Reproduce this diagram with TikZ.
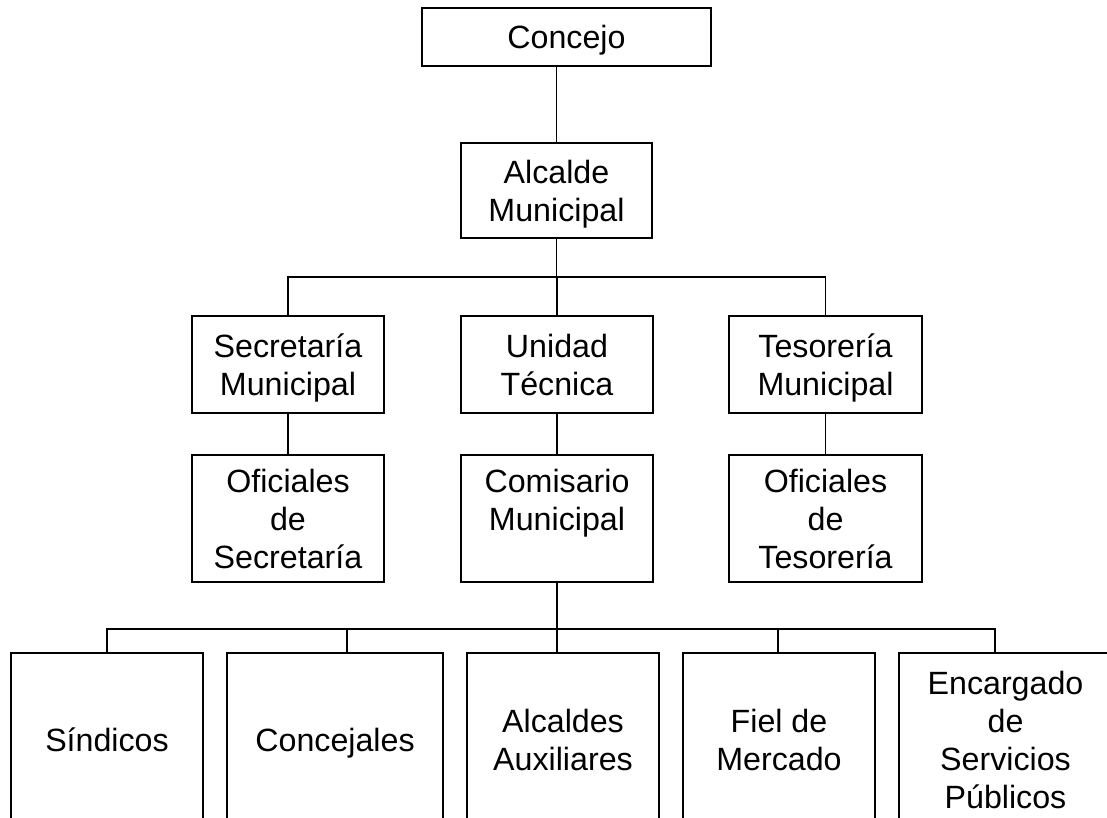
\documentclass[tikz,border=0pt]{standalone}
\usepackage{fontspec}
\setmainfont{Liberation Sans}
\begin{document}
\begin{tikzpicture}[x=1pt,y=-1pt,
  box/.style={draw, line width=1.8pt, inner sep=0pt, align=center,
    font=\fontsize{32.2}{38}\selectfont, text depth=0pt},
  conn/.style={line width=1.8pt}]
\clip (0,0) rectangle (1107,817);
\fill[white] (0,0) rectangle (1107,817);
% level 0-1
\node[box, minimum width=289pt, minimum height=58pt] (con) at (566.5,37) {Concejo};
\node[box, minimum width=191pt, minimum height=95pt] (alc) at (556.5,190.5) {Alcalde\\Municipal};
% level 2
\node[box, minimum width=192pt, minimum height=97pt] (sec) at (288,364.5) {Secretaría\\Municipal};
\node[box, minimum width=192pt, minimum height=97pt] (uni) at (557,364.5) {Unidad\\Técnica};
\node[box, minimum width=193pt, minimum height=97pt] (tes) at (825.5,364.5) {Tesorería\\Municipal};
% level 3
\node[box, minimum width=192pt, minimum height=127pt] (osec) at (288,518.5) {Oficiales\\de\\Secretaría};
\node[box, minimum width=192pt, minimum height=127pt] (com) at (557,518.5) {Comisario\\Municipal\\~};
\node[box, minimum width=193pt, minimum height=127pt] (otes) at (825.5,518.5) {Oficiales\\de\\Tesorería};
% level 4
\node[box, minimum width=192pt, minimum height=174pt] (sind) at (107,740) {Síndicos};
\node[box, minimum width=216pt, minimum height=174pt] (conc) at (335,740) {Concejales};
\node[box, minimum width=192pt, minimum height=174pt] (alx) at (563,740) {Alcaldes\\Auxiliares};
\node[box, minimum width=192pt, minimum height=174pt] (fiel) at (779,740) {Fiel de\\Mercado};
\node[box, minimum width=213pt, minimum height=174pt] (enc) at (1005.5,740) {Encargado\\de\\Servicios\\Públicos};
% bus coordinates
\coordinate (busA) at (0,277);
\coordinate (busB) at (0,629);
\coordinate (k2) at ([xshift=12pt]conc.north);
\coordinate (k3) at ([xshift=-6pt]alx.north);
\coordinate (k4) at ([xshift=-1pt]fiel.north);
\coordinate (k5) at ([xshift=-10.5pt]enc.north);
% connectors
\draw[conn] (alc.north) -- (alc.north |- con.south);
\draw[conn] (alc.south) -- (alc.south |- busA);
\draw[conn] (sec.north) -- (sec.north |- busA) -- (tes.north |- busA) -- (tes.north);
\draw[conn] (uni.north) -- (uni.north |- busA);
\draw[conn] (sec.south) -- (osec.north);
\draw[conn] (uni.south) -- (com.north);
\draw[conn] (tes.south) -- (otes.north);
\draw[conn] (com.south) -- (com.south |- busB);
\draw[conn] (sind.north) -- (sind.north |- busB) -- (k5 |- busB) -- (k5);
\draw[conn] (k2) -- (k2 |- busB);
\draw[conn] (k3) -- (k3 |- busB);
\draw[conn] (k4) -- (k4 |- busB);
\end{tikzpicture}
\end{document}
